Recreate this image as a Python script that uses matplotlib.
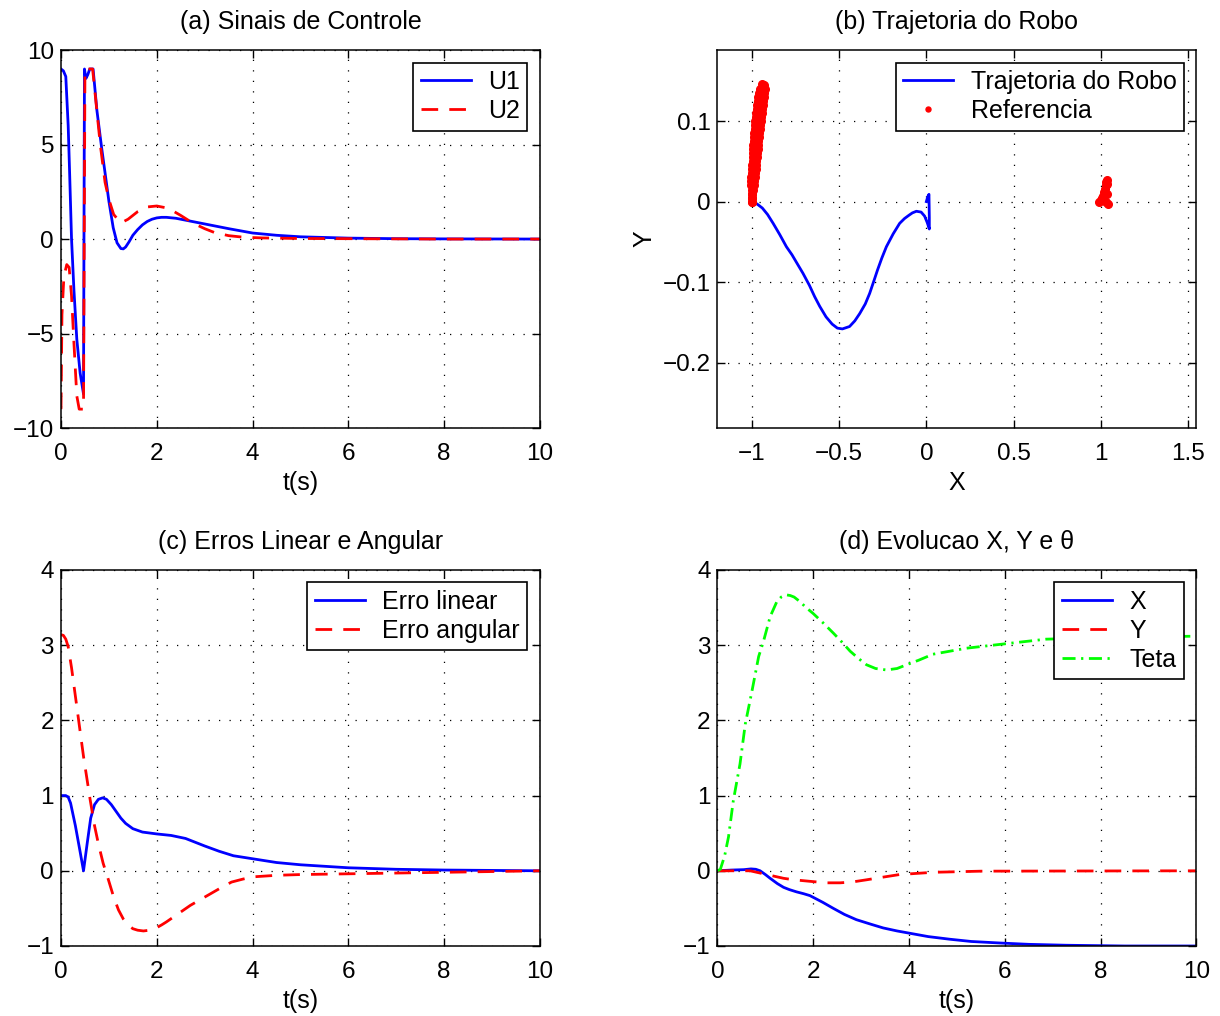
import numpy as np
import matplotlib
matplotlib.use("Agg")
import matplotlib.pyplot as plt

plt.rcParams['font.family'] = ['Liberation Sans', 'DejaVu Sans']
plt.rcParams['font.size'] = 18

# (a) sinais de controle
t_u1 = [0, 0.05, 0.1, 0.15, 0.18, 0.22, 0.27, 0.33, 0.4, 0.47, 0.49, 0.52, 0.56, 0.6, 0.67,
        0.75, 0.85, 0.92, 1.0, 1.09, 1.17, 1.25, 1.3, 1.35, 1.42, 1.5, 1.6, 1.7, 1.8, 1.9,
        2.0, 2.1, 2.2, 2.4, 2.7, 3.0, 3.5, 4.0, 4.5, 5, 6, 7, 8, 10]
u1 = [9.0, 8.9, 8.6, 6.0, 3.5, 0.0, -2.7, -5.3, -7.1, -8.2, 9.0, 8.5, 8.7, 9.0, 9.0,
      6.8, 4.8, 3.5, 2.0, 0.6, -0.2, -0.5, -0.52, -0.42, -0.15, 0.2, 0.5, 0.75, 0.93, 1.05,
      1.12, 1.15, 1.15, 1.1, 0.95, 0.8, 0.55, 0.32, 0.2, 0.12, 0.05, 0.02, 0.01, 0.0]
t_u2 = [0, 0.02, 0.06, 0.12, 0.17, 0.22, 0.27, 0.33, 0.38, 0.47, 0.5, 0.66, 0.74, 0.82,
        0.92, 1.0, 1.1, 1.25, 1.4, 1.5, 1.6, 1.8, 2.0, 2.2, 2.35, 2.5, 2.75, 3.0, 3.2, 3.5,
        3.8, 4.2, 5, 6, 7, 8, 10]
u2 = [-9, -4.0, -2.0, -1.35, -1.5, -3.0, -5.5, -8.3, -9.0, -9.0, 9.0, 9.0, 7.0, 5.0,
      3.0, 2.1, 1.3, 0.85, 1.05, 1.25, 1.45, 1.7, 1.75, 1.65, 1.47, 1.25, 0.85, 0.55, 0.35,
      0.18, 0.1, 0.06, 0.03, 0.02, 0.01, 0.0, 0.0]

# (b) trajetoria
traj_x = [0.0, 0.008, 0.015, 0.016, 0.017, 0.017, 0.005, -0.01, -0.03, -0.057, -0.08, -0.1,
          -0.125, -0.153, -0.19, -0.229, -0.255, -0.28, -0.30, -0.325, -0.35, -0.382, -0.41,
          -0.44, -0.481, -0.51, -0.54, -0.575, -0.611, -0.64, -0.67, -0.707, -0.74, -0.77,
          -0.802, -0.84, -0.878, -0.91, -0.94, -0.97, -1.0]
traj_y = [0.0, 0.006, 0.009, -0.005, -0.02, -0.034, -0.026, -0.018, -0.013, -0.012, -0.014,
          -0.017, -0.021, -0.027, -0.040, -0.056, -0.07, -0.085, -0.098, -0.114, -0.127,
          -0.139, -0.148, -0.155, -0.158, -0.157, -0.152, -0.143, -0.130, -0.118, -0.104,
          -0.089, -0.077, -0.066, -0.056, -0.041, -0.027, -0.016, -0.008, -0.003, 0.0]
ref_x = [-0.998, -1.0, -1.001, -1.002, -1.003, -1.004, -1.004, -1.002, -1.0, -0.998, -0.996,
         -0.995, -0.993, -0.992, -0.991, -0.99, -0.988, -0.986, -0.984, -0.982, -0.98, -0.978,
         -0.976, -0.973, -0.97, -0.967, -0.963, -0.958, -0.953,
         -1.0, -0.999, -0.997, -0.994, -0.99, -0.986, -0.982, -0.98, -0.978, -0.976, -0.974,
         -0.972, -0.969, -0.967, -0.964, -0.962, -0.96, -0.958, -0.955, -0.952, -0.95, -0.947,
         -0.944, -0.941, -0.938, -0.935, -0.932, -0.93, -0.927, -0.94, -0.932,
         0.992, 1.0, 1.008, 1.015, 1.02, 1.024, 1.027, 1.03, 1.033, 1.03, 1.04, 1.035, 1.036]
ref_y = [0.0, 0.005, 0.01, 0.015, 0.02, 0.025, 0.03, 0.035, 0.04, 0.045, 0.05, 0.055, 0.06,
         0.065, 0.07, 0.075, 0.08, 0.085, 0.09, 0.095, 0.1, 0.105, 0.11, 0.115, 0.12, 0.125,
         0.13, 0.135, 0.14,
         0.0, 0.005, 0.01, 0.015, 0.02, 0.025, 0.03, 0.035, 0.04, 0.045, 0.05, 0.055, 0.06,
         0.065, 0.07, 0.075, 0.08, 0.085, 0.09, 0.095, 0.1, 0.105, 0.11, 0.115, 0.12, 0.125,
         0.13, 0.135, 0.14, 0.146, 0.145,
         0.0, 0.002, 0.004, 0.007, 0.012, 0.016, 0.02, 0.024, 0.027, 0.0, -0.003, 0.01, 0.022]

# (c) erros
t_el = [0, 0.1, 0.15, 0.2, 0.3, 0.4, 0.47, 0.55, 0.62, 0.7, 0.78, 0.87, 0.95, 1.05, 1.15,
        1.25, 1.35, 1.5, 1.7, 2.0, 2.3, 2.6, 2.8, 3.0, 3.3, 3.6, 4.0, 4.5, 5, 6, 7, 8, 10]
erro_lin = [1.0, 1.0, 0.98, 0.9, 0.6, 0.25, 0.0, 0.38, 0.7, 0.88, 0.95, 0.97, 0.95, 0.88,
            0.79, 0.70, 0.63, 0.56, 0.515, 0.49, 0.47, 0.43, 0.38, 0.33, 0.26, 0.2, 0.16,
            0.11, 0.08, 0.04, 0.02, 0.01, 0.0]
t_ea = [0, 0.05, 0.1, 0.15, 0.22, 0.32, 0.4, 0.47, 0.61, 0.7, 0.78, 0.88, 0.99, 1.1, 1.2,
        1.3, 1.4, 1.5, 1.6, 1.72, 1.85, 1.96, 2.1, 2.2, 2.45, 2.7, 3.0, 3.3, 3.56, 3.8, 4.02,
        4.5, 5, 6, 7, 8, 9, 10]
erro_ang = [3.14, 3.13, 3.08, 2.98, 2.7, 2.23, 1.85, 1.52, 0.94, 0.6, 0.36, 0.1, -0.12,
            -0.35, -0.52, -0.64, -0.72, -0.77, -0.79, -0.80, -0.79, -0.77, -0.72, -0.68,
            -0.57, -0.46, -0.35, -0.24, -0.15, -0.11, -0.08, -0.06, -0.05, -0.04, -0.03,
            -0.02, -0.01, 0.0]

# (d) evolucao
t_x = [0, 0.3, 0.55, 0.7, 0.8, 0.89, 1.0, 1.1, 1.25, 1.38, 1.5, 1.65, 1.8, 1.93, 2.05, 2.2,
       2.42, 2.65, 2.9, 3.2, 3.46, 3.75, 4.01, 4.4, 4.85, 5.3, 5.89, 6.5, 7.28, 8.5, 10]
ev_x = [0, 0.01, 0.015, 0.025, 0.02, 0.0, -0.05, -0.1, -0.17, -0.22, -0.25, -0.28, -0.305,
        -0.33, -0.37, -0.42, -0.5, -0.58, -0.65, -0.71, -0.76, -0.8, -0.83, -0.875, -0.91,
        -0.94, -0.96, -0.978, -0.99, -1.0, -1.0]
t_y = [0, 0.5, 0.68, 1.03, 1.38, 1.6, 1.93, 2.28, 2.56, 2.8, 3.11, 3.4, 3.8, 4.5, 5.5, 10]
ev_y = [0, 0.0, 0.0, -0.05, -0.10, -0.12, -0.14, -0.16, -0.16, -0.15, -0.12, -0.09, -0.05,
        -0.02, -0.005, 0.0]
t_teta = [0, 0.06, 0.15, 0.23, 0.33, 0.47, 0.58, 0.72, 0.86, 0.96, 1.1, 1.24, 1.33, 1.43,
          1.52, 1.6, 1.72, 1.85, 2.0, 2.2, 2.42, 2.6, 2.77, 2.95, 3.11, 3.3, 3.53, 3.75, 3.95,
          4.2, 4.5, 5.2, 5.89, 6.86, 8.0, 9.0, 10.0]
ev_teta = [0, 0.02, 0.2, 0.45, 0.93, 1.42, 1.95, 2.39, 2.85, 3.05, 3.38, 3.58, 3.64, 3.67,
           3.66, 3.64, 3.58, 3.5, 3.42, 3.3, 3.16, 3.04, 2.92, 2.82, 2.74, 2.69, 2.67, 2.69,
           2.74, 2.8, 2.88, 2.96, 3.01, 3.08, 3.1, 3.11, 3.12]

t_ticks = [0, 2, 4, 6, 8, 10]
b_xticks = [-1, -0.5, 0, 0.5, 1, 1.5]
b_xlabels = ['\u22121', '\u22120.5', '0', '0.5', '1', '1.5']
b_yticks = [-0.2, -0.1, 0, 0.1]
b_ylabels = ['\u22120.2', '\u22120.1', '0', '0.1']

dash = (0, (6, 4))
dashdot = (0, (4.7, 2, 0.8, 2))
lw = 2


def style(ax):
    ax.grid(True, color='k', linestyle=(0, (1, 7.4)), linewidth=0.9)
    ax.tick_params(direction='in', top=True, right=True, length=6, width=1, labelsize=17.5)
    ax.tick_params(axis='x', pad=11)
    ax.tick_params(axis='y', pad=5)
    for s in ax.spines.values():
        s.set_linewidth(1.1)


def leg(ax, **kw):
    l = ax.legend(loc='upper right', fancybox=False, edgecolor='k', framealpha=1,
                  borderaxespad=0.5, handlelength=2.0, handletextpad=0.7,
                  labelspacing=0.2, borderpad=0.3, fontsize=18, **kw)
    l.get_frame().set_linewidth(1.2)
    return l


fig = plt.figure(figsize=(12.2, 10.16), dpi=100)
ax1 = fig.add_axes([0.05, 0.5787, 0.3926, 0.372])
ax2 = fig.add_axes([0.5881, 0.5787, 0.3926, 0.372])
ax3 = fig.add_axes([0.05, 0.0689, 0.3926, 0.3701])
ax4 = fig.add_axes([0.5881, 0.0689, 0.3926, 0.3701])

ax1.plot(t_u1, u1, color='b', lw=lw, label='U1')
ax1.plot(t_u2, u2, color='r', lw=lw, linestyle=dash, label='U2')
ax1.set_xlim(0, 10)
ax1.set_ylim(-10, 10)
ax1.set_xticks(t_ticks)
ax1.set_yticks([-10, -5, 0, 5, 10])
ax1.set_title('(a) Sinais de Controle', fontsize=18, pad=15)
ax1.set_xlabel('t(s)', fontsize=18)
style(ax1)
leg(ax1)

ax2.plot(traj_x, traj_y, color='b', lw=lw, label='Trajetoria do Robo')
ax2.plot(ref_x, ref_y, '.', color='r', markersize=11, label='Referencia')
ax2.set_xlim(-1.197, 1.548)
ax2.set_ylim(-0.281, 0.188)
ax2.set_xticks(b_xticks)
ax2.set_xticklabels(b_xlabels)
ax2.set_yticks(b_yticks)
ax2.set_yticklabels(b_ylabels)
ax2.set_title('(b) Trajetoria do Robo', fontsize=18, pad=15)
ax2.set_xlabel('X', fontsize=18)
ax2.set_ylabel('Y', fontsize=18)
style(ax2)
leg(ax2, markerscale=0.65)

ax3.plot(t_el, erro_lin, color='b', lw=lw, label='Erro linear')
ax3.plot(t_ea, erro_ang, color='r', lw=lw, linestyle=dash, label='Erro angular')
ax3.set_xlim(0, 10)
ax3.set_ylim(-1, 4)
ax3.set_xticks(t_ticks)
ax3.set_yticks([-1, 0, 1, 2, 3, 4])
ax3.set_title('(c) Erros Linear e Angular', fontsize=18, pad=15)
ax3.set_xlabel('t(s)', fontsize=18)
style(ax3)
leg(ax3)

ax4.plot(t_x, ev_x, color='b', lw=lw, label='X')
ax4.plot(t_y, ev_y, color='r', lw=lw, linestyle=dash, label='Y')
ax4.plot(t_teta, ev_teta, color='#00ff00', lw=lw, linestyle=dashdot, label='Teta')
ax4.set_xlim(0, 10)
ax4.set_ylim(-1, 4)
ax4.set_xticks(t_ticks)
ax4.set_yticks([-1, 0, 1, 2, 3, 4])
ax4.set_title('(d) Evolucao X, Y e \u03b8', fontsize=18, pad=15)
ax4.set_xlabel('t(s)', fontsize=18)
style(ax4)
leg(ax4)

fig.savefig('out.png', dpi=100)
